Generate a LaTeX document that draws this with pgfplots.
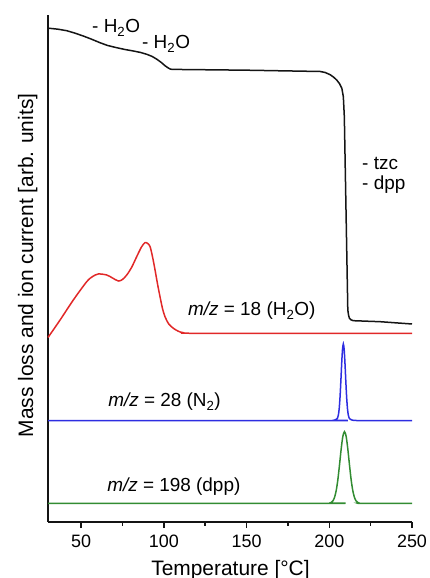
\documentclass[border=0pt]{standalone}
\usepackage{pgfplots}
\pgfplotsset{compat=1.18}
\usepackage{fontspec}
\setmainfont{Liberation Sans}
\definecolor{cred}{RGB}{225,40,40}
\definecolor{cblue}{RGB}{45,45,225}
\definecolor{cgreen}{RGB}{50,140,50}
\definecolor{cblack}{RGB}{20,20,20}
\begin{document}
\begin{tikzpicture}
\useasboundingbox (0,0) rectangle (430bp,578bp);
\begin{axis}[
  at={(48bp,56bp)}, anchor=south west,
  scale only axis, width=364bp, height=507bp,
  xmin=30, xmax=250, ymin=0, ymax=507,
  axis x line=bottom, axis y line=left,
  axis line style={-, line width=1.7bp, cblack},
  ytick=\empty,
  xtick={50,100,150,200,250},
  minor xtick={75,125,175,225},
  tick align=outside,
  major tick length=6bp, minor tick length=4bp,
  every tick/.style={line width=1.4bp, cblack},
  /pgf/number format/assume math mode=true,
  xticklabel style={font=\fontsize{18}{18}\selectfont, inner sep=0pt, yshift=-7bp},
  clip=false,
  every axis plot/.append style={line width=1.5bp},
]
\addplot[cblack] coordinates {
(30,494) (30.8,493.7) (36,492.8) (41.3,491.3) (46,489) (51.3,486) (56,483) (61.4,479.3) (66,476.5) (71.5,474.3) (76.5,472.5) (81.6,471) (86,469.5) (89.7,467.7) (93,465.5) (95.8,462.7) (98.5,459.5) (100.7,456.3) (102.5,454.2) (103.8,453) (105,452.6) (150,451.8) (194.5,450.5) (197.5,449.5) (200.5,447.3) (202.5,445) (204.5,442) (206.2,438.3) (207.6,433.7) (208.5,425.3) (209.1,405.3) (211.2,212) (211.7,206.5) (212.2,203.7) (213.2,202.1) (214.6,201.3) (230.7,200.3) (250,198)
};
\addplot[cred, smooth, tension=0.5] coordinates {
(30,184.5) (37.3,202) (45.3,222) (53.4,240.3) (57,245.5) (60.4,248) (65.5,247) (69,244) (72.5,241) (75,242.5) (77.6,247) (80.5,254.5) (83.6,265.3) (86.5,275) (88.6,279.3) (90.3,278.5) (91.7,275.3) (93.2,265) (94.7,252) (96.2,238) (97.7,225.3) (99.2,213.5) (100.7,205.3) (103,198) (105.8,193.7) (108.5,191) (111.8,189.3) (121.9,188.7) (250,188.7)
};
\addplot[cblue, smooth] coordinates {
(30,101.3) (200,101.4) (202.5,101.7) (203.5,102.1) (204.5,103) (205,104) (205.5,107) (206,113.4) (206.5,124.8) (207,140.7) (207.5,158.4) (208,172.5) (208.5,178) (209,172.5) (209.5,158.4) (210,140.7) (210.5,124.8) (211,113.4) (211.5,107) (212,104) (212.5,103) (213.5,102.1) (214.5,101.7) (220,101.4) (250,101.3)
};
\addplot[cgreen, smooth] coordinates {
(30,18.6) (199.2,18.7) (200.2,18.9) (201.2,19.5) (202.2,21.1) (203.2,24.7) (204.2,31.5) (205.2,42.5) (206.2,57.3) (207.2,73.1) (208.2,85.6) (209.2,90.3) (210.2,85.6) (211.2,73.1) (212.2,57.3) (213.2,42.5) (214.2,31.5) (215.2,24.7) (216.2,21.1) (217.2,19.5) (218.2,18.9) (219.2,18.7) (250,18.6)
};
\begin{scope}[every node/.style={font=\fontsize{19}{19}\selectfont, inner sep=0pt, anchor=base west}]
\node at (axis cs:56.6,489) {- H\textsubscript{2}O};
\node at (axis cs:86.8,473) {- H\textsubscript{2}O};
\node at (axis cs:219.8,352) {- tzc};
\node at (axis cs:219.8,332) {- dpp};
\node at (axis cs:114.6,206) {\textit{m/z} = 18 (H\textsubscript{2}O)};
\node at (axis cs:66.3,115) {\textit{m/z} = 28 (N\textsubscript{2})};
\node at (axis cs:65.7,30) {\textit{m/z} = 198 (dpp)};
\end{scope}
\end{axis}
\node[anchor=base, inner sep=0pt, font=\fontsize{21}{21}\selectfont] at (230.5bp,3bp) {Temperature [°C]};
\node[anchor=base, rotate=90, inner sep=0pt, font=\fontsize{21}{21}\selectfont] at (33bp,312.5bp) {Mass loss and ion current [arb. units]};
\end{tikzpicture}
\end{document}
